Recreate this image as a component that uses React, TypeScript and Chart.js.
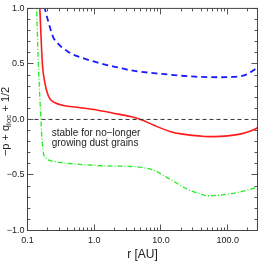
import React, { useEffect, useRef } from "react";
import { Chart, registerables } from "chart.js";

Chart.register(...registerables);

const X_MIN = 0.1;
const X_MAX = 280;
const Y_MIN = -1;
const Y_MAX = 1;
const xTickValues = [0.1, 1, 10, 100];
const yTickValues = [-1, -0.5, 0, 0.5, 1];

const blueR = [0.165, 0.182, 0.2043, 0.243, 0.28, 0.325, 0.39, 0.46, 0.729, 1.3, 2.31, 3.47, 10.3, 32.7, 80, 120, 160, 200, 240, 280];
const blueV = [1.11, 1.0, 0.884, 0.74, 0.69, 0.65, 0.617, 0.59, 0.546, 0.502, 0.467, 0.443, 0.41, 0.385, 0.38, 0.383, 0.39, 0.41, 0.44, 0.47];

const redR = [0.149, 0.153, 0.1671, 0.182, 0.2043, 0.225, 0.258, 0.344, 0.613, 1.09, 1.95, 3.47, 4.95, 8, 14, 20, 46, 62, 100, 160, 220, 280];
const redV = [1.15, 1.0, 0.502, 0.33, 0.215, 0.175, 0.15, 0.126, 0.106, 0.085, 0.056, 0.026, 0, -0.055, -0.11, -0.13, -0.153, -0.155, -0.148, -0.13, -0.105, -0.075];

const greenR = [0.13, 0.1366, 0.1444, 0.153, 0.159, 0.1625, 0.1717, 0.19, 0.2043, 0.243, 0.387, 1.3, 3.3, 4.9, 7.8, 13.9, 24.8, 39.4, 49.6, 78.7, 140, 223, 280];
const greenV = [1.15, 1.0, 0.55, 0.2, 0.0, -0.115, -0.29, -0.35, -0.364, -0.378, -0.394, -0.417, -0.423, -0.43, -0.458, -0.54, -0.628, -0.672, -0.687, -0.681, -0.658, -0.628, -0.605];

const zeroR = [X_MIN, X_MAX];
const zeroV = [0, 0];

const annotationLines = ["stable for no\u2212longer", "growing dust grains"];
const annotationR = 0.2305;
const annotationV = [-0.121, -0.211];

const xTitle = "r [AU]";
const yTitleParts = [
  { text: "\u2212p + q", sub: false },
  { text: "loc", sub: true },
  { text: " + 1/2", sub: false },
];

const FONT = "'Liberation Sans', Arial, Helvetica, sans-serif";
const TEXT_COLOR = "#222";

const toPoints = (r: number[], v: number[]) => r.map((x, i) => ({ x, y: v[i] }));
const fmtNum = (v: number) => v.toFixed(1).replace("-", "\u2212");

const decorPlugin = {
  id: "decor",
  afterDatasetsDraw(chart: any) {
    const { ctx, chartArea: a, scales } = chart;
    const xs = scales.x;
    const ys = scales.y;
    ctx.save();
    ctx.strokeStyle = "#555";
    ctx.lineWidth = 1;
    ctx.beginPath();
    for (let d = -1; d <= 3; d++) {
      for (let m = 1; m <= 9; m++) {
        const v = m * Math.pow(10, d);
        if (v < X_MIN * 0.999 || v > X_MAX) continue;
        const px = Math.floor(xs.getPixelForValue(v)) + 0.5;
        const len = m === 1 ? 6 : 3;
        ctx.moveTo(px, a.bottom);
        ctx.lineTo(px, a.bottom - len);
        ctx.moveTo(px, a.top);
        ctx.lineTo(px, a.top + len);
      }
    }
    for (let i = 0; i <= 20; i++) {
      const v = Y_MIN + i * 0.1;
      const py = Math.floor(ys.getPixelForValue(v)) + 0.5;
      const len = i % 5 === 0 ? 6 : 3;
      ctx.moveTo(a.left, py);
      ctx.lineTo(a.left + len, py);
      ctx.moveTo(a.right, py);
      ctx.lineTo(a.right - len, py);
    }
    ctx.stroke();
    ctx.strokeStyle = "#444";
    ctx.strokeRect(a.left, a.top, a.right - a.left, a.bottom - a.top);

    // annotation text
    ctx.fillStyle = TEXT_COLOR;
    ctx.font = `10px ${FONT}`;
    ctx.textAlign = "left";
    ctx.textBaseline = "middle";
    const ax = xs.getPixelForValue(annotationR);
    annotationLines.forEach((t, i) => {
      ctx.fillText(t, ax, ys.getPixelForValue(annotationV[i]));
    });

    // y title with subscript
    const big = `11px ${FONT}`;
    const small = `8px ${FONT}`;
    let total = 0;
    const widths = yTitleParts.map((p) => {
      ctx.font = p.sub ? small : big;
      const w = ctx.measureText(p.text).width;
      total += w;
      return w;
    });
    ctx.translate(6, (a.top + a.bottom) / 2 + 2);
    ctx.rotate(-Math.PI / 2);
    let cx = -total / 2;
    yTitleParts.forEach((p, i) => {
      ctx.font = p.sub ? small : big;
      ctx.fillText(p.text, cx, p.sub ? 3 : 0);
      cx += widths[i];
    });
    ctx.restore();
  },
};

export default function App() {
  const ref = useRef<HTMLCanvasElement | null>(null);
  useEffect(() => {
    if (!ref.current) return;
    const chart = new Chart(ref.current, {
      type: "line",
      data: {
        datasets: [
          {
            data: toPoints(zeroR, zeroV),
            borderColor: "#333",
            borderWidth: 1,
            borderDash: [4, 3],
            pointRadius: 0,
            tension: 0,
          },
          {
            data: toPoints(greenR, greenV),
            borderColor: "#22ee22",
            borderWidth: 1.3,
            borderDash: [5, 2, 1, 2],
            pointRadius: 0,
            cubicInterpolationMode: "monotone",
          },
          {
            data: toPoints(redR, redV),
            borderColor: "#ff1a1a",
            borderWidth: 1.6,
            pointRadius: 0,
            cubicInterpolationMode: "monotone",
          },
          {
            data: toPoints(blueR, blueV),
            borderColor: "#1a1aff",
            borderWidth: 1.8,
            borderDash: [6, 4],
            pointRadius: 0,
            cubicInterpolationMode: "monotone",
          },
        ],
      },
      options: {
        responsive: false,
        maintainAspectRatio: false,
        animation: false,
        layout: { padding: { left: 0, top: 3.5, right: 0.5, bottom: 0 } },
        plugins: { legend: { display: false }, tooltip: { enabled: false } },
        scales: {
          x: {
            type: "logarithmic",
            min: X_MIN,
            max: X_MAX,
            grid: { display: false, drawTicks: false },
            border: { display: false },
            afterBuildTicks: (s: any) => {
              s.ticks = xTickValues.map((value) => ({ value }));
            },
            afterFit: (s: any) => {
              s.height = 30.5;
            },
            ticks: {
              autoSkip: false,
              maxRotation: 0,
              padding: 5,
              color: TEXT_COLOR,
              font: { family: FONT, size: 9 },
              callback: (v: any) => fmtNum(Number(v)),
            },
            title: {
              display: true,
              text: xTitle,
              color: TEXT_COLOR,
              font: { family: FONT, size: 12, lineHeight: 1 },
              padding: { top: 0, bottom: 0 },
            },
          },
          y: {
            type: "linear",
            min: Y_MIN,
            max: Y_MAX,
            grid: { display: false, drawTicks: false },
            border: { display: false },
            afterBuildTicks: (s: any) => {
              s.ticks = yTickValues.map((value) => ({ value }));
            },
            afterFit: (s: any) => {
              s.width = 27.5;
            },
            ticks: {
              padding: 3,
              color: TEXT_COLOR,
              font: { family: FONT, size: 9 },
              callback: (v: any) => fmtNum(Number(v)),
            },
          },
        },
      },
      plugins: [decorPlugin],
    } as any);
    return () => chart.destroy();
  }, []);
  return (
    <div style={{ position: "fixed", left: 0, top: 0, width: 258, height: 261, background: "#fff" }}>
      <canvas ref={ref} width={258} height={261} style={{ display: "block", width: 258, height: 261 }} />
    </div>
  );
}
